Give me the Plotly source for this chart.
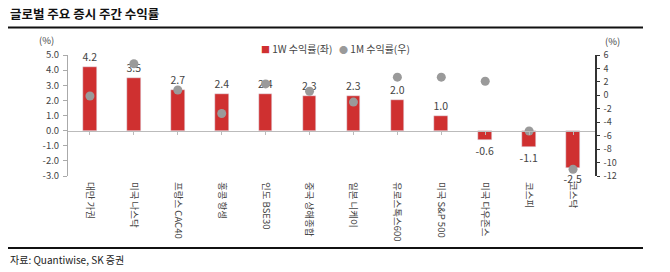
import plotly.graph_objects as go

categories = ["대만 가권", "미국 나스닥", "프랑스 CAC40", "홍콩 항셍", "인도 BSE30", "중국 상해종합",
              "일본 니케이", "유로스톡스600", "미국 S&P 500", "미국 다우존스", "코스피", "코스닥"]
ret_1w = [4.2, 3.5, 2.7, 2.4, 2.4, 2.3, 2.3, 2.0, 1.0, -0.6, -1.1, -2.5]
ret_1m = [-0.1, 4.7, 0.8, -2.7, 1.7, 0.6, -1.0, 2.7, 2.7, 2.1, -5.3, -11.0]
left_ticks = [-3, -2, -1, 0, 1, 2, 3, 4, 5]
right_ticks = [-12, -10, -8, -6, -4, -2, 0, 2, 4, 6]

FONT = "Noto Sans CJK KR"
RED = "#cf3030"
GRAY = "#9a9a9a"
TXT = "#444444"

# plot area geometry (pixels)
L, R, T, B = 68, 75, 55, 96
W, H = 670, 272
PW, PH = W - L - R, H - T - B


def px_x(px):
    return (px - L) / PW


def px_y(py):
    return (H - B - py) / PH


x = list(range(len(categories)))

fig = go.Figure()
fig.add_trace(go.Bar(
    x=x, y=ret_1w, name="1W 수익률(좌)", marker_color=RED, width=0.31,
    text=[f"{v:.1f}" for v in ret_1w], textposition="outside", constraintext="none",
    textfont=dict(size=10.5, color=TXT, family=FONT), cliponaxis=False,
))
fig.add_trace(go.Scatter(
    x=x, y=ret_1m, name="1M 수익률(우)", mode="markers", yaxis="y2",
    marker=dict(color=GRAY, size=9), cliponaxis=False,
))
# zero-line axis with boundary ticks
fig.add_trace(go.Scatter(x=x, y=[None] * len(x), xaxis="x2", showlegend=False, hoverinfo="skip"))

fig.update_layout(
    width=W, height=H,
    margin=dict(l=L, r=R, t=T, b=B),
    paper_bgcolor="white", plot_bgcolor="white",
    font=dict(family=FONT, color=TXT),
    showlegend=False,
    bargap=0,
    xaxis=dict(
        range=[-0.5, len(categories) - 0.5], tickmode="array", tickvals=x, ticktext=categories,
        tickangle=90, tickfont=dict(size=9.5, color=TXT, family=FONT), showline=False,
        showgrid=False, zeroline=False, ticks="", ticklabelstandoff=5,
    ),
    xaxis2=dict(
        overlaying="x", matches="x", anchor="free", position=0.375, showline=True,
        linecolor="#bbbbbb", linewidth=1, ticks="outside", tickson="boundaries",
        ticklen=3, tickcolor="#bbbbbb", showticklabels=False, showgrid=False,
        tickmode="array", tickvals=x, zeroline=False,
    ),
    yaxis=dict(
        range=[-3, 5], tickmode="array", tickvals=left_ticks,
        ticktext=[f"{v:.1f}" for v in left_ticks], showgrid=False, zeroline=False,
        showline=True, linecolor="#aaaaaa", linewidth=1, ticks="outside", ticklen=4,
        tickcolor="#aaaaaa", tickfont=dict(size=9.5, color=TXT), ticklabelstandoff=2,
    ),
    yaxis2=dict(
        range=[-12, 6], overlaying="y", side="right", tickmode="array", tickvals=right_ticks,
        ticktext=[str(v) for v in right_ticks],
        showgrid=False, zeroline=False, showline=True, linecolor="#333333", linewidth=1.5,
        ticks="outside", ticklen=3, tickcolor="#333333", tickfont=dict(size=9, color=TXT),
        ticklabelstandoff=2,
    ),
)

fig.add_annotation(text="글로벌 주요 증시 주간 수익률", xref="paper", yref="paper", x=px_x(8), y=px_y(13),
                   xanchor="left", yanchor="middle", showarrow=False,
                   font=dict(size=12.5, color="#111111", family=FONT, weight=600))
fig.add_annotation(text="(%)", xref="paper", yref="paper", x=px_x(46), y=px_y(40),
                   showarrow=False, font=dict(size=9.5, color=TXT), xanchor="center", yanchor="middle")
fig.add_annotation(text="(%)", xref="paper", yref="paper", x=px_x(612), y=px_y(41),
                   showarrow=False, font=dict(size=9.5, color=TXT), xanchor="center", yanchor="middle")
fig.add_annotation(
    text=(f"<span style='color:{RED};font-size:9px'>■</span> 1W 수익률(좌)   "
          f"<span style='color:{GRAY};font-size:9px'>●</span> 1M 수익률(우)"),
    xref="paper", yref="paper", x=px_x(259), y=px_y(48), xanchor="left", yanchor="middle",
    showarrow=False, font=dict(size=10, color=TXT, family=FONT))
fig.add_annotation(text="자료: Quantiwise, SK 증권", xref="paper", yref="paper", x=px_x(8), y=px_y(259),
                   xanchor="left", yanchor="middle", showarrow=False,
                   font=dict(size=10, color="#222222", family=FONT))

# title rule and bottom rule
fig.add_shape(type="line", xref="paper", yref="paper", x0=px_x(8), x1=px_x(643), y0=px_y(27.5), y1=px_y(27.5),
              line=dict(color="#111111", width=2))
fig.add_shape(type="line", xref="paper", yref="paper", x0=px_x(8), x1=px_x(643), y0=px_y(248), y1=px_y(248),
              line=dict(color="#111111", width=2))

fig.write_html("out.html")
